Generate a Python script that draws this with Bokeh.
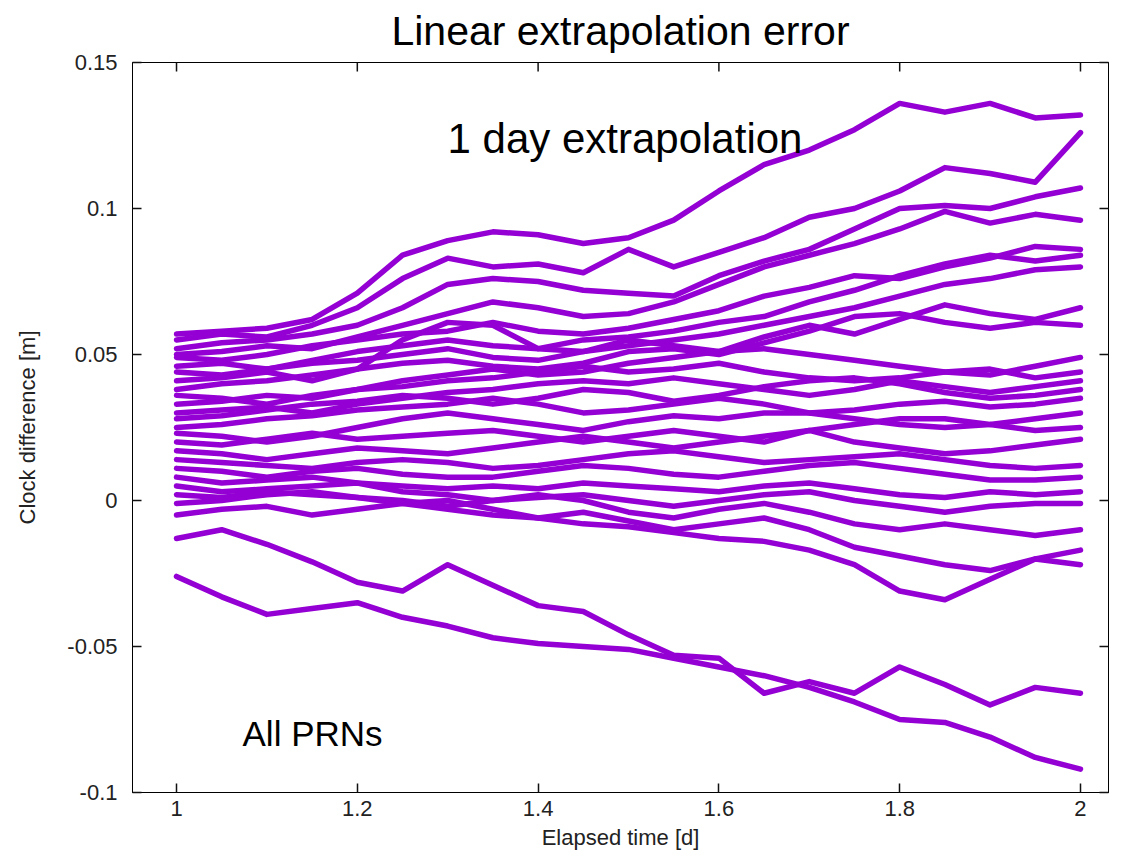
from bokeh.plotting import figure
from bokeh.models import Range1d, LinearAxis, FixedTicker, CustomJSTickFormatter, Label
from bokeh.embed import file_html
from bokeh.resources import INLINE

# Elapsed time [d]
elapsed = [1.00, 1.05, 1.10, 1.15, 1.20, 1.25, 1.30, 1.35, 1.40, 1.45, 1.50,
           1.55, 1.60, 1.65, 1.70, 1.75, 1.80, 1.85, 1.90, 1.95, 2.00]

# Clock difference per PRN, in millimetres
prn_01 = [57, 58, 59, 62, 71, 84, 89, 92, 91, 88, 90, 96, 106, 115, 120, 127, 136, 133, 136, 131, 132]
prn_02 = [55, 57, 56, 60, 66, 76, 83, 80, 81, 78, 86, 80, 85, 90, 97, 100, 106, 114, 112, 109, 126]
prn_03 = [52, 54, 55, 57, 60, 66, 74, 76, 75, 72, 71, 70, 77, 82, 86, 93, 100, 101, 100, 104, 107]
prn_04 = [50, 51, 53, 52, 56, 60, 64, 68, 66, 63, 64, 68, 74, 80, 84, 88, 93, 99, 95, 98, 96]
prn_05 = [49, 48, 50, 53, 55, 57, 58, 61, 58, 57, 59, 62, 65, 70, 73, 77, 76, 80, 83, 87, 86]
prn_06 = [46, 47, 45, 48, 51, 53, 55, 53, 52, 55, 56, 58, 61, 63, 68, 72, 77, 81, 84, 82, 84]
prn_07 = [44, 43, 45, 47, 48, 50, 52, 49, 48, 51, 53, 55, 57, 60, 63, 66, 70, 74, 76, 79, 80]
prn_08 = [41, 42, 44, 41, 45, 55, 61, 60, 52, 51, 55, 53, 51, 56, 60, 57, 62, 67, 64, 62, 66]
prn_09 = [38, 40, 41, 43, 45, 47, 48, 46, 45, 47, 51, 52, 50, 54, 58, 63, 64, 61, 59, 61, 60]
prn_10 = [36, 35, 33, 36, 38, 41, 43, 45, 43, 44, 47, 49, 51, 52, 50, 48, 46, 44, 43, 46, 49]
prn_11 = [33, 34, 36, 35, 38, 39, 41, 42, 44, 46, 44, 45, 47, 44, 42, 41, 42, 44, 45, 42, 44]
prn_12 = [30, 31, 32, 30, 33, 35, 37, 38, 40, 41, 40, 42, 40, 38, 36, 38, 41, 39, 37, 39, 41]
prn_13 = [28, 29, 31, 33, 34, 36, 35, 33, 35, 38, 37, 34, 36, 39, 41, 42, 40, 37, 35, 36, 38]
prn_14 = [25, 26, 28, 29, 31, 32, 33, 35, 33, 30, 31, 33, 35, 33, 30, 31, 33, 34, 32, 33, 35]
prn_15 = [23, 22, 20, 22, 25, 28, 30, 28, 26, 24, 27, 29, 28, 30, 30, 28, 26, 25, 26, 28, 30]
prn_16 = [20, 19, 21, 23, 21, 22, 23, 24, 22, 20, 22, 24, 22, 20, 24, 26, 28, 28, 26, 24, 25]
prn_17 = [17, 16, 14, 16, 18, 17, 16, 18, 20, 22, 20, 18, 20, 22, 24, 20, 18, 16, 17, 19, 21]
prn_18 = [14, 13, 12, 11, 13, 14, 13, 11, 12, 14, 16, 17, 15, 13, 14, 15, 16, 14, 12, 11, 12]
prn_19 = [11, 10, 8, 10, 11, 9, 8, 8, 10, 12, 11, 9, 8, 10, 12, 13, 11, 9, 7, 7, 8]
prn_20 = [8, 6, 7, 8, 6, 5, 4, 5, 4, 6, 5, 4, 3, 5, 6, 4, 2, 1, 3, 2, 3]
prn_21 = [5, 3, 4, 5, 6, 3, 2, 0, 1, 2, 0, -2, 0, 2, 3, 0, -2, -4, -2, -1, -1]
prn_22 = [2, 1, 3, 2, 1, 0, -2, 0, 2, 0, -4, -6, -3, -1, -4, -8, -10, -8, -10, -12, -10]
prn_23 = [-1, 0, 2, 3, 1, -1, -3, -5, -6, -8, -9, -11, -13, -14, -17, -22, -31, -34, -27, -20, -17]
prn_24 = [-5, -3, -2, -5, -3, -1, 0, -3, -6, -4, -7, -10, -8, -6, -10, -16, -19, -22, -24, -20, -22]
prn_25 = [-13, -10, -15, -21, -28, -31, -22, -29, -36, -38, -46, -53, -54, -66, -62, -66, -57, -63, -70, -64, -66]
prn_26 = [-26, -33, -39, -37, -35, -40, -43, -47, -49, -50, -51, -54, -57, -60, -64, -69, -75, -76, -81, -88, -92]

series_mm = [prn_01, prn_02, prn_03, prn_04, prn_05, prn_06, prn_07, prn_08, prn_09,
             prn_10, prn_11, prn_12, prn_13, prn_14, prn_15, prn_16, prn_17, prn_18,
             prn_19, prn_20, prn_21, prn_22, prn_23, prn_24, prn_25, prn_26]

x_ticks = [1.0, 1.2, 1.4, 1.6, 1.8, 2.0]
y_ticks = [-0.1, -0.05, 0.0, 0.05, 0.1, 0.15]

FONT = "Liberation Sans"
LINE_COLOR = "#9400d3"
X_START, X_END = 0.9513, 2.031
Y_START, Y_END = -0.1, 0.15

p = figure(width=1135, height=857,
           x_range=Range1d(X_START, X_END), y_range=Range1d(Y_START, Y_END),
           output_backend="svg", toolbar_location=None,
           min_border_left=132, min_border_right=27,
           min_border_top=62, min_border_bottom=65,
           background_fill_color="white", border_fill_color="white",
           outline_line_color="black", outline_line_width=1,
           title="Linear extrapolation error")
p.title.align = "center"
p.title.vertical_align = "top"
p.title.text_font = FONT
p.title.text_font_size = "41px"
p.title.text_font_style = "normal"
p.title.text_color = "black"
p.title.standoff = 14
p.xgrid.visible = False
p.ygrid.visible = False

xs = [elapsed for _ in series_mm]
ys = [[v / 1000.0 for v in s] for s in series_mm]
p.multi_line(xs, ys, line_color=LINE_COLOR, line_width=5.5, line_join="round", line_cap="round")

# mirrored (top) tick marks, gnuplot style, pointing into the frame
tick_len_y = (Y_END - Y_START) * 9 / 730.0
p.segment(x0=x_ticks, y0=[Y_END] * len(x_ticks), x1=x_ticks,
          y1=[Y_END - tick_len_y] * len(x_ticks), line_color="#111111", line_width=1.5)

fmt = CustomJSTickFormatter(code="return String(parseFloat(tick.toFixed(2)));")
blank = CustomJSTickFormatter(code="return '';")


def style(ax, ticks, formatter, show):
    ax.ticker = FixedTicker(ticks=ticks)
    ax.formatter = formatter
    ax.major_tick_in = 9
    ax.major_tick_out = 0
    ax.minor_tick_in = 0
    ax.minor_tick_out = 0
    ax.axis_line_color = "black"
    ax.major_tick_line_color = "#111111"
    ax.major_tick_line_width = 1.5
    ax.major_label_text_font = FONT
    ax.major_label_text_color = "#222222"
    ax.major_label_text_font_size = "22px" if show else "1px"
    if not show:
        ax.major_label_text_alpha = 0
    ax.axis_label_text_font = FONT
    ax.axis_label_text_font_style = "normal"
    ax.axis_label_text_font_size = "22px"
    ax.axis_label_text_color = "#222222"


xa = p.xaxis[0]
ya = p.yaxis[0]
style(xa, x_ticks, fmt, True)
style(ya, y_ticks, fmt, True)
xa.axis_label = "Elapsed time [d]"
ya.axis_label = "Clock difference [m]"
xa.major_label_standoff = 8
ya.major_label_standoff = 15
xa.axis_label_standoff = 6
ya.axis_label_standoff = 24

right = LinearAxis()
style(right, y_ticks, blank, False)
right.major_label_standoff = 0
p.add_layout(right, "right")

p.add_layout(Label(x=1.2998, y=0.124, text="1 day extrapolation",
                   text_font=FONT, text_font_size="42px", text_align="left",
                   text_baseline="alphabetic", text_color="black"))
p.add_layout(Label(x=1.073, y=-0.0798, text="All PRNs",
                   text_font=FONT, text_font_size="35px", text_align="left",
                   text_baseline="alphabetic", text_color="black"))

open("out.html", "w").write(file_html(p, INLINE))
